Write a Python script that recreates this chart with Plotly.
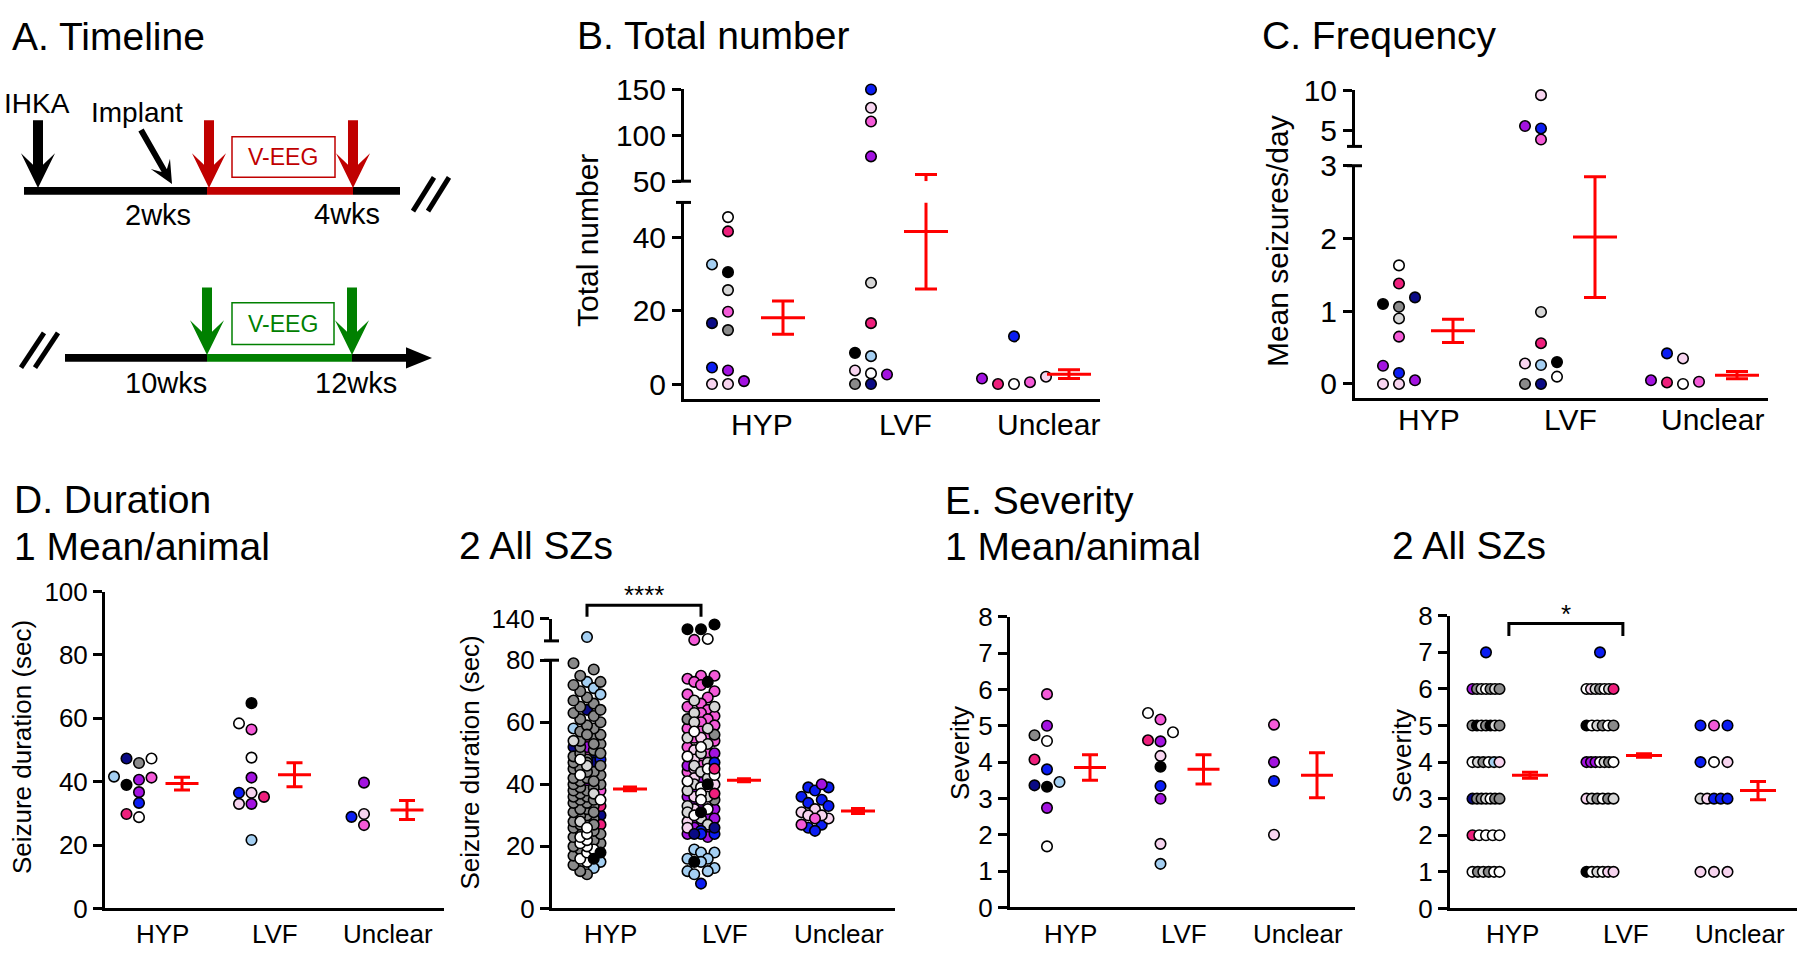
import math
import plotly.graph_objects as go

W, H = 1800, 964
FONT = "Liberation Sans, Arial, Helvetica, sans-serif"
RED = "#ff0000"

PALETTE = {
    "black": "#000000", "gray": "#8a8a8a", "lightgray": "#d6d6d6", "white": "#ffffff",
    "palepink": "#f7d4ef", "pink": "#f45ad8", "deeppink": "#ee1f7c", "purple": "#a313e0",
    "blue": "#0b1df2", "navy": "#0a0a85", "lightblue": "#a4cff2",
}

CATEGORIES = ["HYP", "LVF", "Unclear"]

# ---------------- B. Total number (per animal) ----------------
b_hyp = [30.5, 14.7, 4.5, 0.0, 45.5, 41.6, 25.6, 19.7, 0.8, 32.6, 16.6, 3.7, 0.0]
b_hyp_col = ["black", "gray", "blue", "palepink", "white", "deeppink", "lightgray", "pink",
             "purple", "lightblue", "navy", "purple", "palepink"]
b_lvf = [150, 130, 115, 77, 27.6, 16.6, 3.7, 7.6, 2.9, 0.0, 8.5, 2.6, 0.0]
b_lvf_col = ["blue", "palepink", "pink", "purple", "lightgray", "deeppink", "palepink",
             "lightblue", "white", "navy", "black", "purple", "gray"]
b_unc = [13.0, 0.0, 2.0, 1.5, 0.5, 0.0]
b_unc_col = ["blue", "white", "palepink", "purple", "pink", "deeppink"]
b_mean = [18.1, 41.6, 2.7]
b_sem = [4.5, 15.7, 1.2]

# ---------------- C. Frequency (seizures/day) ----------------
c_hyp = [1.1, 0.9, 0.25, 0.0, 1.63, 1.38, 1.19, 0.65, 0.05, 1.06, 0.15, 0.0]
c_hyp_col = ["black", "lightgray", "purple", "palepink", "white", "deeppink", "navy", "pink",
             "purple", "gray", "blue", "palepink"]
c_lvf = [9.4, 5.5, 3.8, 5.2, 0.99, 0.56, 0.3, 0.26, 0.1, 0.0, 0.0, 0.28]
c_lvf_col = ["palepink", "purple", "pink", "blue", "lightgray", "deeppink", "black", "lightblue",
             "white", "navy", "gray", "palepink"]
c_unc = [0.35, 0.42, 0.0, 0.05, 0.03, 0.02]
c_unc_col = ["palepink", "blue", "white", "purple", "pink", "deeppink"]
c_mean = [0.73, 2.02, 0.12]
c_sem = [0.16, 0.83, 0.05]

# ---------------- D1. Duration, mean per animal ----------------
d1_hyp = [45.9, 41.3, 36.7, 28.8, 47.3, 41.6, 33.3, 47.3, 40.6, 39.0, 29.8]
d1_hyp_col = ["gray", "pink", "purple", "white", "navy", "lightblue", "blue", "white", "purple",
              "black", "deeppink"]
d1_lvf = [64.8, 47.6, 41.3, 35.2, 21.6, 56.5, 36.5, 33.0, 58.4, 36.5, 33.0]
d1_lvf_col = ["black", "white", "purple", "deeppink", "lightblue", "pink", "palepink", "purple",
              "white", "blue", "palepink"]
d1_unc = [39.7, 26.3, 29.8, 28.9]
d1_unc_col = ["purple", "pink", "palepink", "blue"]
d1_mean = [39.4, 42.2, 31.1]
d1_sem = [2.0, 3.8, 3.0]

# ---------------- D2. Duration, all seizures (by animal colour) ----------------
d2_hyp_gray = [11, 12, 14, 17, 19, 20, 21, 22, 23, 24, 25, 25, 26, 27, 28, 28, 29, 30, 30, 31,
               32, 32, 33, 34, 34, 35, 36, 36, 37, 38, 38, 39, 40, 40, 41, 42, 42, 43, 44, 45,
               45, 46, 47, 48, 49, 50, 51, 52, 53, 54, 55, 56, 57, 58, 59, 60, 61, 62, 63, 65,
               66, 68, 70, 72, 73, 75, 77, 79, 64, 67, 56, 53, 47, 44, 39, 35, 31, 27, 41, 50]
d2_hyp_white = [15, 16, 18, 19, 20, 21, 22, 23, 24, 26, 35, 43, 48]
d2_hyp_lightgray = [28, 37, 46, 54]
d2_hyp_lightblue = [121, 73, 71, 69, 58, 15, 13]
d2_hyp_navy = [64, 52, 49, 47, 30]
d2_hyp_black = [16, 18]
d2_hyp_pink = [38, 54, 50]
d2_hyp_deeppink = [33, 47, 27]
d2_hyp_purple = [40, 52]
d2_hyp_blue = [48]

d2_lvf_gray = [61, 56, 35]
d2_lvf_lightgray = [67, 65, 63, 60, 58, 55, 53, 50, 47, 46, 44, 42, 40, 38, 36, 33, 31, 29, 27]
d2_lvf_white = [119, 57, 52, 49, 45, 43, 41, 39, 37, 35, 32, 30]
d2_lvf_palepink = [55, 51, 48, 45, 42, 40, 38, 36, 34, 32, 28, 26]
d2_lvf_pink = [118, 75, 75, 74, 73, 72, 70, 69, 68, 66, 65, 64, 63, 62, 61, 60, 59, 58, 57, 56,
               55, 54, 52, 50, 48, 46, 44]
d2_lvf_purple = [50, 46, 42, 38, 36, 34, 33, 32, 30, 29, 28, 27, 26, 25, 24, 23]
d2_lvf_lightblue = [19, 18, 18, 16, 16, 15, 13, 12, 12, 11]
d2_lvf_blue = [8, 25, 24, 24, 47]
d2_lvf_black = [134, 129, 129, 73, 40, 31, 15]
d2_lvf_navy = [24, 26]
d2_lvf_deeppink = [37, 45]

d2_unc_blue = [39, 39, 38, 36, 35, 34, 33, 27, 26, 25]
d2_unc_purple = [40]
d2_unc_palepink = [32, 31, 30, 29, 30]
d2_unc_pink = [27, 29]

d2_mean = [38.5, 41.3, 31.4]
d2_sem = [0.6, 0.5, 0.8]

# ---------------- E1. Severity, mean per animal ----------------
e1_hyp = [4.58, 3.45, 3.36, 5.87, 5.0, 4.07, 3.8, 2.74, 1.68, 4.74, 3.32]
e1_hyp_col = ["white", "lightblue", "navy", "pink", "purple", "deeppink", "blue", "purple", "white",
              "gray", "black"]
e1_lvf = [5.35, 4.6, 5.17, 4.82, 4.17, 3.87, 3.34, 2.99, 1.75, 1.2, 4.57]
e1_lvf_col = ["white", "deeppink", "pink", "white", "palepink", "black", "blue", "purple", "palepink",
              "lightblue", "purple"]
e1_unc = [5.03, 4.0, 3.48, 2.0]
e1_unc_col = ["pink", "purple", "blue", "palepink"]
e1_mean = [3.85, 3.8, 3.64]
e1_sem = [0.35, 0.4, 0.62]

# ---------------- E2. Severity, all seizures ----------------
e2_hyp_sev = [7, 6, 6, 6, 6, 6, 6, 6, 5, 5, 5, 5, 5, 5, 5, 4, 4, 4, 4, 4, 4,
              3, 3, 3, 3, 3, 3, 3, 2, 2, 2, 2, 2, 1, 1, 1, 1, 1, 1]
e2_hyp_col = ["blue",
              "purple", "gray", "lightgray", "white", "gray", "lightgray", "gray",
              "gray", "black", "lightgray", "gray", "black", "lightgray", "gray",
              "white", "lightgray", "gray", "white", "lightblue", "palepink",
              "navy", "gray", "gray", "lightgray", "white", "gray", "gray",
              "deeppink", "white", "white", "white", "white",
              "white", "gray", "lightgray", "gray", "white", "white"]
e2_lvf_sev = [7, 6, 6, 6, 6, 6, 6, 6, 5, 5, 5, 5, 5, 5, 4, 4, 4, 4, 4, 4, 4,
              3, 3, 3, 3, 3, 3, 1, 1, 1, 1, 1, 1]
e2_lvf_col = ["blue",
              "white", "palepink", "lightgray", "gray", "white", "lightgray", "deeppink",
              "black", "white", "lightgray", "gray", "white", "gray",
              "purple", "purple", "purple", "white", "lightgray", "gray", "white",
              "palepink", "lightgray", "gray", "white", "gray", "lightgray",
              "black", "white", "lightgray", "white", "palepink", "palepink"]
e2_unc_sev = [5, 5, 5, 4, 4, 4, 3, 3, 3, 3, 3, 1, 1, 1]
e2_unc_col = ["blue", "pink", "blue", "blue", "white", "palepink",
              "lightgray", "palepink", "blue", "blue", "blue",
              "palepink", "palepink", "palepink"]
e2_mean = [3.64, 4.18, 3.22]
e2_sem = [0.08, 0.05, 0.25]


# ======================================================================
def fx(px):
    return px / W


def fy(py):
    return 1 - py / H


def concat(*pairs):
    vals, cols = [], []
    for v, c in pairs:
        vals += v
        cols += [c] * len(v)
    return vals, cols


D2_GROUPS = [
    concat((d2_hyp_lightblue, "lightblue"), (d2_hyp_navy, "navy"), (d2_hyp_pink, "pink"),
           (d2_hyp_deeppink, "deeppink"), (d2_hyp_purple, "purple"), (d2_hyp_blue, "blue"),
           (d2_hyp_gray, "gray"), (d2_hyp_lightgray, "lightgray"), (d2_hyp_white, "white"),
           (d2_hyp_black, "black")),
    concat((d2_lvf_pink, "pink"), (d2_lvf_purple, "purple"), (d2_lvf_palepink, "palepink"),
           (d2_lvf_gray, "gray"), (d2_lvf_lightgray, "lightgray"), (d2_lvf_white, "white"),
           (d2_lvf_lightblue, "lightblue"), (d2_lvf_blue, "blue"), (d2_lvf_navy, "navy"),
           (d2_lvf_deeppink, "deeppink"), (d2_lvf_black, "black")),
    concat((d2_unc_blue, "blue"), (d2_unc_purple, "purple"), (d2_unc_palepink, "palepink"),
           (d2_unc_pink, "pink")),
]

PANELS = [
    dict(x="x", x0=684, x1=1100, first=728, step=143, moff=55, labfrac=0.62, mode="swarm", lane=16,
         segs=[dict(y="y", rng=[-4.2, 49.5], top=192, bot=396, ticks=[0, 20, 40]),
               dict(y="y2", rng=[50, 150], top=75, bot=170, ticks=[50, 100, 150])],
         groups=[(b_hyp, b_hyp_col), (b_lvf, b_lvf_col), (b_unc, b_unc_col)],
         mean=b_mean, sem=b_sem, tickfont=30, catfont=30, laby=422, meanw=44, cap=11,
         ytitle="Total number", ytx=587, yty=232, ytfont=30),
    dict(x="x2", x0=1355, x1=1768, first=1399, step=142, moff=54, labfrac=0.55, mode="swarm", lane=16,
         segs=[dict(y="y3", rng=[-0.2, 3], top=154, bot=395, ticks=[0, 1, 2, 3]),
               dict(y="y4", rng=[2.93, 10], top=76, bot=134, ticks=[5, 10])],
         groups=[(c_hyp, c_hyp_col), (c_lvf, c_lvf_col), (c_unc, c_unc_col)],
         mean=c_mean, sem=c_sem, tickfont=30, catfont=30, laby=417, meanw=44, cap=11,
         ytitle="Mean seizures/day", ytx=1277, yty=232, ytfont=30),
    dict(x="x3", x0=105, x1=444, first=139, step=112.5, moff=43, labfrac=0.55, mode="swarm", lane=12.5,
         segs=[dict(y="y5", rng=[0, 100], top=595, bot=923, ticks=[0, 20, 40, 60, 80, 100])],
         groups=[(d1_hyp, d1_hyp_col), (d1_lvf, d1_lvf_col), (d1_unc, d1_unc_col)],
         mean=d1_mean, sem=d1_sem, tickfont=26, catfont=26, laby=949, meanw=33, cap=8,
         ytitle="Seizure duration (sec)", ytx=22, yty=756, ytfont=26),
    dict(x="x4", x0=552, x1=895, first=587, step=114, moff=43, labfrac=0.55, mode="dense", lane=6.75,
         segs=[dict(y="y6", rng=[0, 80], top=666, bot=923, ticks=[0, 20, 40, 60, 80]),
               dict(y="y7", rng=[117, 140], top=623, bot=646, ticks=[140])],
         groups=D2_GROUPS,
         mean=d2_mean, sem=d2_sem, tickfont=26, catfont=26, laby=949, meanw=34, cap=7,
         ytitle="Seizure duration (sec)", ytx=470, yty=772, ytfont=26),
    dict(x="x5", x0=1010, x1=1355, first=1047, step=113.5, moff=43, labfrac=0.55, mode="swarm", lane=12.5,
         segs=[dict(y="y8", rng=[0, 8], top=621, bot=922, ticks=list(range(9)))],
         groups=[(e1_hyp, e1_hyp_col), (e1_lvf, e1_lvf_col), (e1_unc, e1_unc_col)],
         mean=e1_mean, sem=e1_sem, tickfont=26, catfont=26, laby=949, meanw=32, cap=8,
         ytitle="Severity", ytx=960, yty=762, ytfont=26),
    dict(x="x6", x0=1450, x1=1797, first=1486, step=114, moff=44, labfrac=0.6, mode="rows", lane=13.5,
         segs=[dict(y="y9", rng=[0, 8], top=620, bot=923, ticks=list(range(9)))],
         groups=[(e2_hyp_sev, e2_hyp_col), (e2_lvf_sev, e2_lvf_col), (e2_unc_sev, e2_unc_col)],
         mean=e2_mean, sem=e2_sem, tickfont=26, catfont=26, laby=949, meanw=36, cap=8,
         ytitle="Severity", ytx=1402, yty=765, ytfont=26),
]


def seg_index(p, v):
    if len(p["segs"]) > 1 and v >= p["segs"][1]["rng"][0]:
        return 1
    return 0


def v2px(p, v):
    s = p["segs"][seg_index(p, v)]
    r0, r1 = s["rng"]
    return s["bot"] - (v - r0) / (r1 - r0) * (s["bot"] - s["top"])


def offsets(p, vals):
    n = len(vals)
    offs = [0.0] * n
    order = sorted(range(n), key=lambda i: vals[i])
    if p["mode"] == "swarm":
        placed = {}
        for i in order:
            y = v2px(p, vals[i])
            for c in (0, -1, 1, -2, 2, -3, 3):
                if all(abs(y - yy) >= 11 for yy in placed.get(c, [])):
                    placed.setdefault(c, []).append(y)
                    offs[i] = c * p["lane"]
                    break
    elif p["mode"] == "dense":
        lanes = [-2, -1, 0, 1, 2]
        last = [1e9] * 5
        for i in order:
            y = v2px(p, vals[i])
            j = max(range(5), key=lambda k: (round(last[k] - y, 3), -abs(lanes[k])))
            offs[i] = lanes[j] * p["lane"]
            last[j] = y
    else:  # rows
        levels = {}
        for i in range(n):
            levels.setdefault(vals[i], []).append(i)
        for lv, idx in levels.items():
            m = len(idx)
            for r, i in enumerate(idx):
                offs[i] = 0.0 if m == 1 else -p["lane"] + 2 * p["lane"] * r / (m - 1)
    return offs


fig = go.Figure()
layout = dict(width=W, height=H, margin=dict(l=0, r=0, t=0, b=0),
              paper_bgcolor="white", plot_bgcolor="white", showlegend=False,
              font=dict(family=FONT, color="black"))
annotations = []
shapes = []


def axkey(name, letter):
    return f"{letter}axis{name[1:]}"


for p in PANELS:
    s = p["step"]
    rng = [(p["x0"] - p["first"]) / s, (p["x1"] - p["first"]) / s]
    layout[axkey(p["x"], "x")] = dict(
        domain=[fx(p["x0"]), fx(p["x1"])], anchor=p["segs"][0]["y"], range=rng,
        showline=True, linewidth=3, linecolor="black", ticks="", ticklen=0, showgrid=False,
        zeroline=False, showticklabels=False, fixedrange=True)
    for sg in p["segs"]:
        layout[axkey(sg["y"], "y")] = dict(
            domain=[fy(sg["bot"]), fy(sg["top"])], anchor=p["x"], range=sg["rng"],
            tickvals=sg["ticks"], ticks="outside", ticklen=9, tickwidth=3, tickcolor="black",
            showline=True, linewidth=3, linecolor="black", showgrid=False, zeroline=False,
            tickfont=dict(size=p["tickfont"], family=FONT, color="black"), fixedrange=True)
    # category labels, positioned through the x axis scale
    for k, cat in enumerate(CATEGORIES):
        annotations.append(dict(text=cat, x=k + p["labfrac"] * p["moff"] / s, y=fy(p["laby"]),
                                xref=p["x"], yref="paper", showarrow=False, xanchor="center",
                                yanchor="middle", font=dict(size=p["catfont"], family=FONT, color="black")))
    # axis-break marks
    if len(p["segs"]) > 1:
        for ypx in (p["segs"][0]["top"], p["segs"][1]["bot"]):
            shapes.append(dict(type="line", xref="paper", yref="paper",
                               x0=fx(p["x0"] - 8), x1=fx(p["x0"] + 7), y0=fy(ypx), y1=fy(ypx),
                               line=dict(color="black", width=3)))
    # individual points
    for k, (vals, cols) in enumerate(p["groups"]):
        offs = offsets(p, vals)
        for si, sg in enumerate(p["segs"]):
            idx = [i for i in range(len(vals)) if seg_index(p, vals[i]) == si]
            if not idx:
                continue
            fig.add_trace(go.Scatter(
                x=[k + offs[i] / s for i in idx], y=[vals[i] for i in idx],
                xaxis=p["x"], yaxis=sg["y"], mode="markers", cliponaxis=False, hoverinfo="skip",
                marker=dict(size=10.5, color=[PALETTE[cols[i]] for i in idx],
                            line=dict(color="black", width=1.6))))
    # mean +/- SEM, drawn per axis segment
    for sg in p["segs"]:
        r0, r1 = sg["rng"]
        xs, ys = [], []
        for k in range(3):
            m, e = p["mean"][k], p["sem"][k]
            xc = k + p["moff"] / s
            a, b = max(m - e, r0), min(m + e, r1)
            if b > a:
                xs += [xc, xc, None]
                ys += [a, b, None]
            for yv, hw in ((m, p["meanw"] / 2), (m - e, p["cap"]), (m + e, p["cap"])):
                if r0 <= yv <= r1:
                    xs += [xc - hw / s, xc + hw / s, None]
                    ys += [yv, yv, None]
        if xs:
            fig.add_trace(go.Scatter(x=xs, y=ys, xaxis=p["x"], yaxis=sg["y"], mode="lines",
                                     line=dict(color=RED, width=3), hoverinfo="skip", cliponaxis=False))
    annotations.append(dict(text=p["ytitle"], x=fx(p["ytx"]), y=fy(p["yty"]), xref="paper", yref="paper",
                            showarrow=False, textangle=-90, xanchor="center", yanchor="middle",
                            font=dict(size=p["ytfont"], family=FONT, color="black")))


def cat_px(p, k, frac):
    return p["first"] + k * p["step"] + frac * p["moff"]


# significance brackets (D2 between dot columns, E2 between labels)
for p, frac, ytop, yleg, star, stary in ((PANELS[3], 0.0, 609, 621, "****", 598),
                                          (PANELS[5], 0.52, 628, 641, "*", 618)):
    xa, xb = cat_px(p, 0, frac), cat_px(p, 1, frac)
    shapes.append(dict(type="path", xref="paper", yref="paper",
                       path=f"M {fx(xa)},{fy(yleg)} L {fx(xa)},{fy(ytop)} L {fx(xb)},{fy(ytop)} L {fx(xb)},{fy(yleg)}",
                       line=dict(color="black", width=3)))
    annotations.append(dict(text=star, x=fx((xa + xb) / 2), y=fy(stary), xref="paper", yref="paper",
                            showarrow=False, xanchor="center", yanchor="middle",
                            font=dict(size=26, family=FONT, color="black")))

# panel titles
for txt, x, y in (("A. Timeline", 10, 20), ("B. Total number", 575, 19), ("C. Frequency", 1260, 19),
                  ("D. Duration", 12, 500), ("1 Mean/animal", 12, 548), ("2 All SZs", 457, 547),
                  ("E. Severity", 943, 501), ("1 Mean/animal", 943, 548), ("2 All SZs", 1390, 547)):
    annotations.append(dict(text=txt, x=fx(x), y=fy(y), xref="paper", yref="paper", showarrow=False,
                            xanchor="left", yanchor="middle", font=dict(size=39, family=FONT, color="black")))

# ---------------- A. Timeline schematic ----------------
DKRED, GREEN = "#c00000", "#008000"


def poly(pts, color):
    path = "M " + " L ".join(f"{fx(a):.5f},{fy(b):.5f}" for a, b in pts) + " Z"
    return dict(type="path", path=path, xref="paper", yref="paper", fillcolor=color,
                line=dict(width=0), layer="above")


def rect(x0, y0, x1, y1, color, fill=True, lw=0):
    return dict(type="rect", xref="paper", yref="paper", x0=fx(x0), x1=fx(x1), y0=fy(y1), y1=fy(y0),
                fillcolor=color if fill else "rgba(0,0,0,0)",
                line=dict(width=lw, color=color), layer="above")


def arrow(x0, y0, x1, y1, sw, hw, hl, notch, color):
    L = math.hypot(x1 - x0, y1 - y0)
    ux, uy = (x1 - x0) / L, (y1 - y0) / L
    nx, ny = -uy, ux

    def P(t, q):
        return (x0 + ux * t + nx * q, y0 + uy * t + ny * q)
    pts = [P(0, -sw), P(L - hl + notch, -sw), P(L - hl, -hw), P(L, 0), P(L - hl, hw),
           P(L - hl + notch, sw), P(0, sw)]
    return poly(pts, color)


def seg(x0, y0, x1, y1, color, w):
    return dict(type="line", xref="paper", yref="paper", x0=fx(x0), y0=fy(y0), x1=fx(x1), y1=fy(y1),
                line=dict(color=color, width=w), layer="above")


# top timeline (weeks 0-4)
shapes += [rect(24, 176, 207, 184, "black"), rect(207, 176, 353, 184, DKRED), rect(353, 176, 400, 184, "black"),
           arrow(38, 107, 38, 177, 5, 17, 36, 12, "black"),
           arrow(141, 117, 172, 173, 3, 11, 24, 8, "black"),
           arrow(209, 107, 209, 177, 5, 17, 36, 12, DKRED),
           arrow(353, 107, 353, 177, 5, 17, 36, 12, DKRED),
           rect(232, 124, 335, 166, DKRED, fill=False, lw=1.5),
           seg(413, 201, 434, 166, "black", 5), seg(428, 201, 449, 166, "black", 5)]
# bottom timeline (weeks 10-12)
shapes += [rect(65, 349, 207, 357, "black"), rect(207, 349, 352, 357, GREEN), rect(352, 349, 408, 357, "black"),
           poly([(406, 342), (432, 353), (406, 364)], "black"),
           arrow(207, 280, 207, 350, 5, 17, 36, 12, GREEN),
           arrow(352, 280, 352, 350, 5, 17, 36, 12, GREEN),
           rect(232, 296, 334, 339, GREEN, fill=False, lw=1.5),
           seg(21, 363, 44, 327, "black", 5), seg(35, 363, 58, 327, "black", 5)]

for txt, x, y, size, col in (("IHKA", 37, 90, 28, "black"), ("Implant", 137, 99, 28, "black"),
                             ("2wks", 158, 205, 29, "black"), ("4wks", 347, 204, 29, "black"),
                             ("10wks", 166, 379, 29, "black"), ("12wks", 356, 379, 29, "black"),
                             ("V-EEG", 283, 145, 23, DKRED), ("V-EEG", 283, 318, 23, GREEN)):
    annotations.append(dict(text=txt, x=fx(x), y=fy(y), xref="paper", yref="paper", showarrow=False,
                            xanchor="center", yanchor="middle", font=dict(size=size, family=FONT, color=col)))

layout["annotations"] = annotations
layout["shapes"] = shapes
fig.update_layout(**layout)
fig.write_html(
    "out.html",
    config={"displayModeBar": False},
    post_script="document.body.style.margin='0px';document.body.style.padding='0px';"
                "document.documentElement.style.overflow='hidden';",
)
